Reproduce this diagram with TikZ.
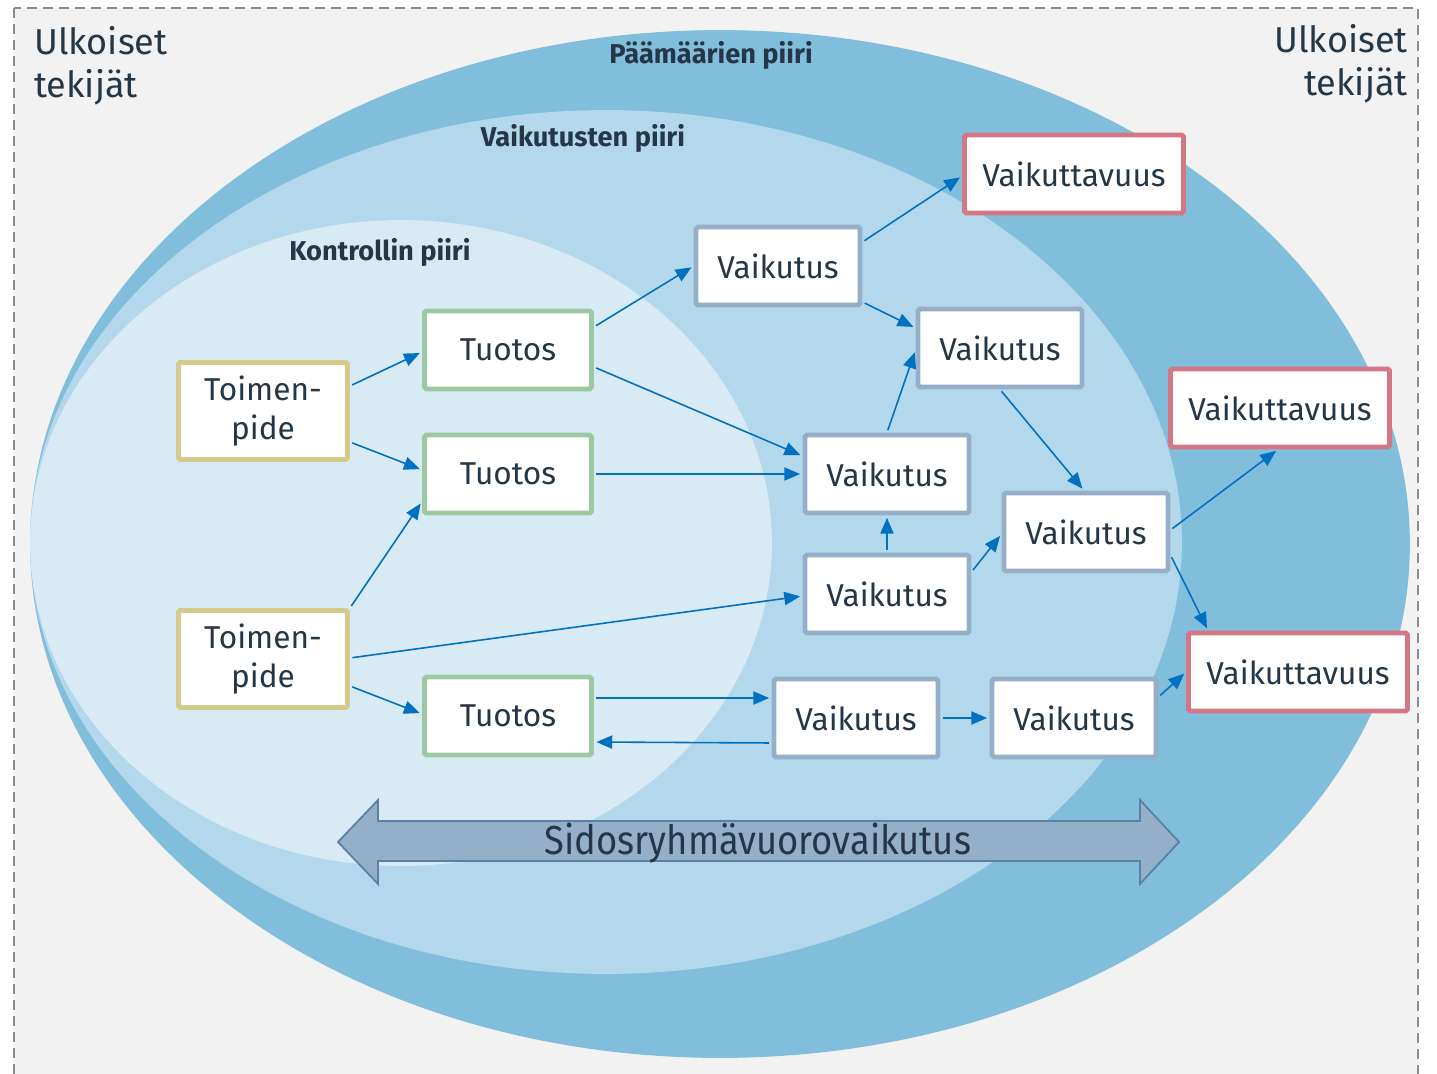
\documentclass[tikz,border=0pt]{standalone}
\usepackage{fontspec}
\setmainfont{Fira Sans}
\usetikzlibrary{positioning,arrows.meta,calc}
\definecolor{txtcol}{HTML}{253746}
\definecolor{bgcol}{HTML}{F2F2F2}
\definecolor{dashcol}{HTML}{8C8C8C}
\definecolor{outercol}{HTML}{81BEDC}
\definecolor{middlecol}{HTML}{B4D8EB}
\definecolor{innercol}{HTML}{D8EAF4}
\definecolor{toimcol}{HTML}{D6CA8A}
\definecolor{tuotcol}{HTML}{9DC9A2}
\definecolor{vaikcol}{HTML}{96AFC8}
\definecolor{vtvcol}{HTML}{D47784}
\definecolor{arrowcol}{HTML}{0070C0}
\definecolor{sidoscol}{HTML}{94AFC8}
\definecolor{sidosline}{HTML}{5B80A6}

\begin{document}
\begin{tikzpicture}[
    x = 0.02cm, y = -0.02cm,
    > = {Triangle[length=9pt, width=7.5pt]},
    shorten > = 1.4pt,
    shorten < = 1.4pt,
    box/.style={draw, fill=white, line width=2.8pt, rounded corners=1pt,
        text=txtcol, font=\fontsize{18}{22}\selectfont, minimum height=1.56cm},
    toimbox/.style={box, draw=toimcol, minimum width=3.38cm, minimum height=1.94cm, align=center},
    tuotbox/.style={box, draw=tuotcol, minimum width=3.34cm},
    vaikbox/.style={box, draw=vaikcol, minimum width=3.28cm},
    vtvbox/.style={box, draw=vtvcol, minimum width=4.38cm},
    conn/.style={->, draw=arrowcol, line width=0.9pt},
    piiri/.style={text=txtcol, font=\bfseries\fontsize{15.5}{17}\selectfont},
    ulko/.style={text=txtcol, font=\fontsize{20.5}{24.5}\selectfont, inner sep=0pt}
]
    \useasboundingbox (0,0) rectangle (1437,1074);
    \clip (0,0) rectangle (1437,1074);
    \fill[white] (0,0) rectangle (1437,1074);

    % background and circles
    \draw[fill=bgcol, draw=dashcol, line width=1.4pt, dash pattern=on 0.2cm off 0.12cm]
        (14,8) rectangle (1418,1095);
    \fill[outercol] (720,544) ellipse [x radius=13.8cm, y radius=10.28cm];
    \fill[middlecol] (606,542) ellipse [x radius=11.52cm, y radius=8.64cm];
    \fill[innercol] (401,543) ellipse [x radius=7.42cm, y radius=6.46cm];

    \node[ulko, anchor=north west, align=left] (ulkoL) at (34,26) {Ulkoiset\\tekijät};
    \node[ulko, anchor=north east, align=right] (ulkoR) at (1408,24) {Ulkoiset\\tekijät};

    \node[piiri] (paam) at (711,55) {Päämäärien piiri};
    \node[piiri] (vaikp) at (583,138) {Vaikutusten piiri};
    \node[piiri] (kontr) at (380,252) {Kontrollin piiri};

    % stakeholder arrow
    \draw[fill=sidoscol, draw=sidosline, line width=1pt]
        (338,842) -- (378,800) -- (378,821) -- (1140,821) -- (1140,800) -- (1179,842)
        -- (1140,884) -- (1140,861) -- (378,861) -- (378,884) -- cycle;
    \node[text=txtcol, font=\fontsize{23}{26}\selectfont, xscale=0.9] (sidos) at (758,843) {Sidosryhmävuorovaikutus};

    % nodes
    \node[toimbox] (toim1) at (263,411) {Toimen-\\pide};
    \node[toimbox] (toim2) at (263,659) {Toimen-\\pide};
    \node[tuotbox] (tuot1) at (508,350) {Tuotos};
    \node[tuotbox] (tuot2) at (508,474) {Tuotos};
    \node[tuotbox] (tuot3) at (508,716) {Tuotos};
    \node[vaikbox] (vA) at (778,266) {Vaikutus};
    \node[vaikbox] (vB) at (1000,348) {Vaikutus};
    \node[vaikbox] (vC) at (887,474) {Vaikutus};
    \node[vaikbox] (vD) at (887,594) {Vaikutus};
    \node[vaikbox] (vE) at (1086,532) {Vaikutus};
    \node[vaikbox] (vF) at (856,718) {Vaikutus};
    \node[vaikbox] (vG) at (1074,718) {Vaikutus};
    \node[vtvbox] (vtv1) at (1074,174) {Vaikuttavuus};
    \node[vtvbox] (vtv2) at (1280,408) {Vaikuttavuus};
    \node[vtvbox] (vtv3) at (1298,672) {Vaikuttavuus};

    % connectors
    \draw[conn] ($(toim1.east)+(0,-25)$) -- ($(tuot1.west)+(0,2)$);
    \draw[conn] ($(toim1.east)+(0,31)$) -- ($(tuot2.west)+(0,-4)$);
    \draw[conn] (toim2.north east) -- ($(tuot2.south west)+(0,-14)$);
    \draw[conn] ($(toim2.east)+(0,-1)$) -- ($(vD.west)+(0,2)$);
    \draw[conn] ($(toim2.east)+(0,27)$) -- ($(tuot3.west)+(0,-2)$);
    \draw[conn] ($(tuot1.east)+(0,-23)$) -- (vA.west);
    \draw[conn] ($(tuot1.east)+(0,17)$) -- ($(vC.west)+(0,-18)$);
    \draw[conn] (tuot2.east) -- (vC.west);
    \draw[conn] ($(tuot3.east)+(0,-18)$) -- ($(vF.west)+(0,-20)$);
    \draw[conn] ($(vF.west)+(0,25)$) -- ($(tuot3.east)+(0,26)$);
    \draw[conn] (vF.east) -- (vG.west);
    \draw[conn] ($(vG.east)+(0,-21)$) -- (vtv3.west);
    \draw[conn] ($(vA.east)+(0,-24)$) -- ($(vtv1.west)+(0,2)$);
    \draw[conn] ($(vA.east)+(0,36)$) -- ($(vB.west)+(0,-20)$);
    \draw[conn] (vC.north) -- ($(vB.west)+(0,2)$);
    \draw[conn] (vD.north) -- (vC.south);
    \draw[conn] ($(vD.east)+(0,-22)$) -- ($(vE.west)+(0,2)$);
    \draw[conn] (vB.south) -- ($(vE.north)+(-2,0)$);
    \draw[conn] ($(vE.east)+(0,-2)$) -- ($(vtv2.south)+(-2,0)$);
    \draw[conn] ($(vE.east)+(0,23)$) -- ($(vtv3.north west)+(22,0)$);
\end{tikzpicture}
\end{document}
